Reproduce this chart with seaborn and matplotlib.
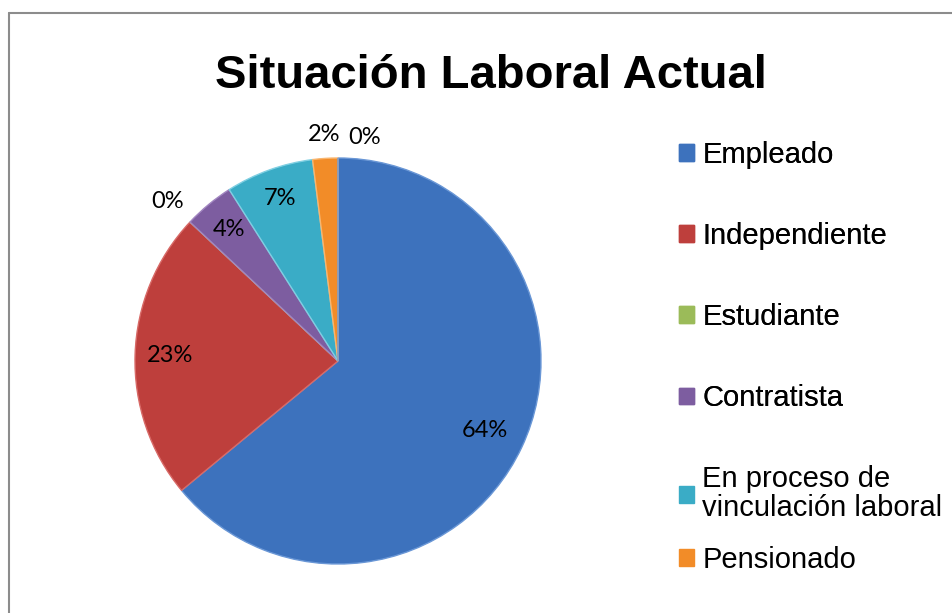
import numpy as np
import matplotlib
matplotlib.use("Agg")
import matplotlib.pyplot as plt
from matplotlib.patches import Patch
from matplotlib.lines import Line2D
import seaborn as sns

# data (clockwise from 12 o'clock)
categories = ["Empleado", "Independiente", "Estudiante", "Contratista",
              "En proceso de\nvinculación laboral", "Pensionado", "Otro"]
values = [64, 23, 0, 4, 7, 2, 0]
pct_labels = ["64%", "23%", "0%", "4%", "7%", "2%", "0%"]
in_legend = [True, True, True, True, True, True, False]

colors = ["#3D72BD", "#BE3F3C", "#9BBB59", "#7D5DA0", "#3AACC6", "#F28C28", "#4F81BD"]
edge_colors = ["#6A97D6", "#D86A67", "#B8D27E", "#A185C0", "#7FCFE2", "#F9B56E", "#6A97D6"]
label_r = [0.80, 0.83, 1.15, 0.84, 0.85, 1.12, 1.10]

sns.set_style("white")
plt.rcParams['font.family'] = ['Liberation Sans', 'DejaVu Sans']
plt.rcParams['text.color'] = 'black'

fig = plt.figure(figsize=(9.53, 6.13), dpi=100)

# pie axes: centre (338, 361) px, radius ~203 px
L = 1.2
R = 203
W, H = 953, 613
cx, cy = 338, 361
ax = fig.add_axes([(cx - R * L) / W, (H - cy - R * L) / H, 2 * R * L / W, 2 * R * L / H])

wedges, _ = ax.pie(values, colors=colors, startangle=90, counterclock=False,
                   wedgeprops=dict(linewidth=1.0, edgecolor="white"))
for w, ec in zip(wedges, edge_colors):
    w.set_edgecolor(ec)

for i, w in enumerate(wedges):
    ang = np.deg2rad((w.theta1 + w.theta2) / 2)
    x = label_r[i] * np.cos(ang)
    y = label_r[i] * np.sin(ang)
    ha = "center"
    if i == len(wedges) - 1:
        ha = "left"
        x += 0.05
    ax.text(x, y, pct_labels[i], ha=ha, va="center", fontsize=17,
            family=["Lato", "DejaVu Sans"], color="black")

ax.set_xlim(-L, L)
ax.set_ylim(-L, L)
ax.set_aspect("equal")
ax.axis("off")

# title
fig.text(491 / W, (H - 88) / H, "Situación Laboral Actual", ha="center", va="baseline",
         fontsize=34, fontweight="bold", color="black")

# legend (first six categories only), split in two blocks to copy the uneven spacing
handles = [Patch(facecolor=c, edgecolor=c) for c, show in zip(colors, in_legend) if show]
labels = [n for n, show in zip(categories, in_legend) if show]
leg_kw = dict(loc="upper left", frameon=False, fontsize=21, handlelength=0.5,
              handleheight=0.5, handletextpad=0.3, borderaxespad=0, borderpad=0,
              labelcolor="black")
leg1 = fig.legend(handles[:4], labels[:4], bbox_to_anchor=(679 / W, (H - 141) / H),
                  labelspacing=1.82, **leg_kw)
fig.add_artist(leg1)
leg2 = fig.legend(handles[4:], labels[4:], bbox_to_anchor=(679 / W, (H - 465) / H),
                  labelspacing=0.82, **leg_kw)
leg2.get_texts()[0].set_linespacing(1.05)

# chart frame (top and left edges visible)
fig.add_artist(Line2D([9 / W, 1], [1 - 12.5 / H, 1 - 12.5 / H], color="#8C8C8C", lw=1.5))
fig.add_artist(Line2D([9 / W, 9 / W], [0, 1 - 12.5 / H], color="#8C8C8C", lw=1.5))

fig.savefig("out.png", dpi=100)
